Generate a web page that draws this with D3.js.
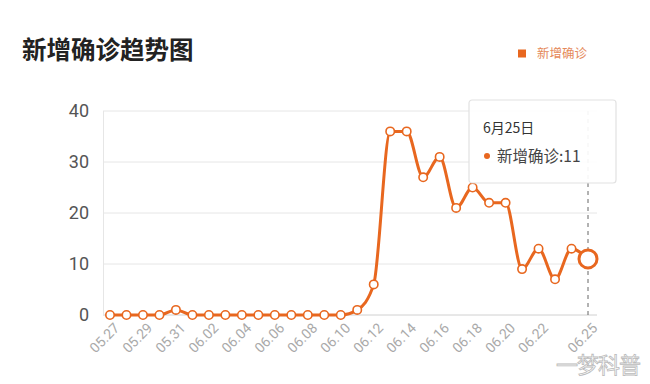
<!DOCTYPE html>
<html><head><meta charset="utf-8">
<script src="https://cdn.jsdelivr.net/npm/d3@7"></script>
<style>body{margin:0;background:#fff;}svg{display:block;font-family:"Noto Sans CJK SC",Roboto,sans-serif;}</style>
</head><body>
<svg id="c" width="650" height="384"></svg>
<script>
const dates = ["05.27","05.28","05.29","05.30","05.31","06.01","06.02","06.03","06.04","06.05","06.06","06.07","06.08","06.09","06.10","06.11","06.12","06.13","06.14","06.15","06.16","06.17","06.18","06.19","06.20","06.21","06.22","06.23","06.24","06.25"];
const values = [0,0,0,0,1,0,0,0,0,0,0,0,0,0,0,1,6,36,36,27,31,21,25,22,22,9,13,7,13,11];
const yTicks = [0,10,20,30,40];
const xLabels = ["05.27","05.29","05.31","06.02","06.04","06.06","06.08","06.10","06.12","06.14","06.16","06.18","06.20","06.22","06.25"];
const seriesName = "新增确诊";
const title = "新增确诊趋势图";
const tipTitle = "6月25日";

const orange = "#e8671f";
const svg = d3.select("#c");
const x = d3.scalePoint().domain(dates).range([110, 588]);
const y = d3.scaleLinear().domain([0, 40]).range([315, 111]);

// title
svg.append("text").attr("x", 22).attr("y", 59).attr("font-size", 24.5).attr("font-weight", "bold").attr("fill", "#222").text(title);
// legend
svg.append("rect").attr("x", 518).attr("y", 49.5).attr("width", 8).attr("height", 8).attr("fill", orange);
svg.append("text").attr("x", 537).attr("y", 58).attr("font-size", 12.5).attr("fill", "#e5895a").text(seriesName);

// grid
const g = svg.append("g");
g.selectAll("line.grid").data(yTicks).join("line")
  .attr("x1", 103).attr("x2", 597).attr("y1", d => y(d)).attr("y2", d => y(d))
  .attr("stroke", d => d === 0 ? "#d0d0d0" : "#e6e6e6").attr("stroke-width", 1);
g.append("line").attr("x1", 103.5).attr("x2", 103.5).attr("y1", y(40)).attr("y2", y(0)).attr("stroke", "#e6e6e6");

// y axis labels
const yAxis = d3.axisLeft(y).tickValues(yTicks).tickSize(0).tickPadding(0);
const ya = svg.append("g").attr("transform", "translate(89,0)").call(yAxis);
ya.select(".domain").remove();
ya.selectAll("text").attr("font-size", 18).attr("fill", "#555").attr("font-family", "Roboto,sans-serif");

// x axis labels
const xAxis = d3.axisBottom(x).tickValues(xLabels).tickSize(0).tickPadding(0);
const xa = svg.append("g").attr("transform", "translate(0,322)").call(xAxis);
xa.select(".domain").remove();
xa.selectAll("text").attr("font-size", 14).attr("fill", "#aaa").attr("font-family", "Roboto,sans-serif")
  .attr("text-anchor", "end").attr("dy", "0.7em").attr("transform", "translate(3,0) rotate(-45)");

// dashed pointer line
svg.append("line").attr("x1", x("06.25")).attr("x2", x("06.25")).attr("y1", y(40)).attr("y2", y(0))
  .attr("stroke", "#666").attr("stroke-dasharray", "4,4").attr("stroke-width", 1);

// line
const line = d3.line().x((d, i) => x(dates[i])).y(d => y(d)).curve(d3.curveMonotoneX);
svg.append("path").datum(values).attr("d", line).attr("fill", "none").attr("stroke", orange).attr("stroke-width", 3);

// points
svg.selectAll("circle.pt").data(values.slice(0, -1)).join("circle")
  .attr("cx", (d, i) => x(dates[i])).attr("cy", d => y(d)).attr("r", 4.2)
  .attr("fill", "#fff").attr("stroke", orange).attr("stroke-width", 1.6);
svg.append("circle").attr("cx", x(dates[dates.length - 1])).attr("cy", y(values[values.length - 1])).attr("r", 9)
  .attr("fill", "#fff").attr("stroke", orange).attr("stroke-width", 3);

// tooltip
const tip = svg.append("g").attr("transform", "translate(469,100)");
tip.append("rect").attr("x", 0).attr("y", 0).attr("width", 147).attr("height", 83).attr("rx", 3)
  .attr("fill", "rgba(255,255,255,0.92)").attr("stroke", "#e2e2e2").attr("stroke-width", 1.2);
tip.append("text").attr("x", 14).attr("y", 33).attr("font-size", 14).attr("fill", "#333").text(tipTitle);
tip.append("circle").attr("cx", 18).attr("cy", 56).attr("r", 3).attr("fill", orange);
tip.append("text").attr("x", 28).attr("y", 62).attr("font-size", 15.5).attr("fill", "#444").text(seriesName + ":" + values[values.length - 1]);

// watermark
svg.append("text").attr("x", 556).attr("y", 373).attr("font-size", 22).attr("fill", "#fff")
  .attr("stroke", "#bbb").attr("stroke-width", 0.8).attr("letter-spacing", -1).text("一梦科普");
</script>
</body></html>
